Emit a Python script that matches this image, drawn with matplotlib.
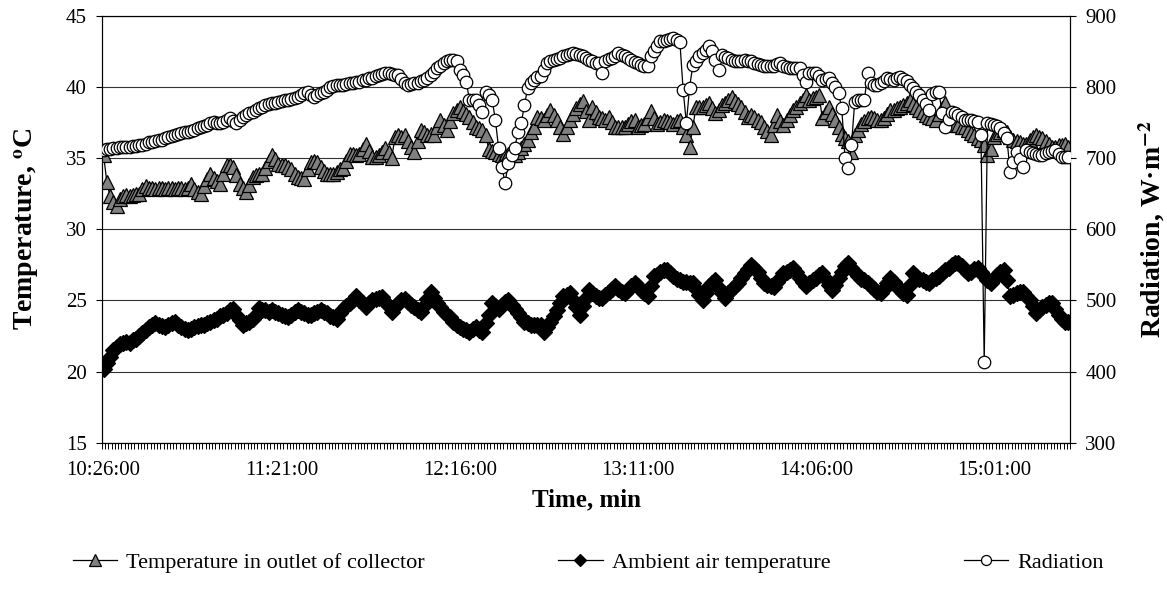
import numpy as np
import matplotlib
matplotlib.use('Agg')
import matplotlib.pyplot as plt

# one reading per minute, 10:26 .. 15:24
t_labels = ['10:26:00', '11:21:00', '12:16:00', '13:11:00', '14:06:00', '15:01:00']
t_label_pos = [0, 55, 110, 165, 220, 275]

t_outlet = [35.2, 33.3, 32.3, 31.9, 31.6, 32.1, 32.3, 32.4, 32.3, 32.4,
            32.5, 32.5, 32.8, 33.0, 32.9, 32.9, 32.8, 32.9, 32.9, 32.8,
            32.9, 32.9, 32.8, 32.9, 32.9, 32.8, 32.9, 33.2, 32.8, 32.6,
            32.5, 33.0, 33.5, 33.9, 33.6, 33.4, 33.2, 33.9, 34.5, 34.5,
            34.4, 33.8, 33.2, 32.9, 32.6, 33.1, 33.7, 33.8, 33.9, 33.9,
            34.3, 34.8, 35.2, 34.9, 34.6, 34.5, 34.5, 34.4, 34.2, 33.9,
            33.7, 33.6, 33.5, 34.2, 34.75, 34.8, 34.75, 34.4, 34.1, 33.9,
            33.9, 33.9, 34.0, 34.2, 34.3, 34.8, 35.3, 35.3, 35.2, 35.3,
            35.6, 36.0, 35.5, 35.1, 35.1, 35.2, 35.4, 35.7, 35.4, 35.0,
            36.5, 36.6, 36.5, 36.6, 36.2, 35.8, 35.45, 36.2, 37.0, 36.8,
            36.6, 36.7, 36.6, 37.2, 37.7, 37.3, 37.0, 37.6, 38.15, 38.4,
            38.6, 38.3, 38.1, 37.9, 37.5, 37.2, 37.1, 37.0, 36.6, 35.6,
            35.5, 35.45, 35.3, 35.2, 35.2, 35.3, 35.2, 35.2, 35.4, 35.7,
            36.0, 36.3, 36.8, 37.2, 37.9, 37.8, 37.7, 38.0, 38.4, 38.0,
            37.7, 37.2, 36.7, 37.2, 37.7, 38.1, 38.5, 38.8, 39.0, 38.3,
            37.7, 38.6, 38.2, 37.9, 37.8, 37.7, 37.9, 37.5, 37.2, 37.2,
            37.2, 37.2, 37.4, 37.6, 37.7, 37.2, 37.3, 37.4, 37.8, 38.3,
            37.8, 37.4, 37.5, 37.7, 37.6, 37.5, 37.4, 37.6, 37.7, 37.2,
            36.6, 35.8, 37.2, 38.6, 38.6, 38.6, 38.7, 38.85, 38.5, 38.15,
            38.4, 38.7, 38.9, 39.1, 39.3, 39.0, 38.8, 38.6, 38.2, 37.9,
            38.0, 37.9, 37.7, 37.5, 37.2, 36.9, 36.6, 37.3, 38.0, 37.6,
            37.3, 37.7, 38.0, 38.4, 38.6, 38.85, 39.1, 39.4, 39.1, 39.2,
            39.3, 39.4, 37.8, 38.2, 38.6, 38.1, 37.7, 37.2, 36.7, 36.4,
            36.2, 35.45, 36.6, 37.0, 37.4, 37.6, 37.8, 37.9, 37.8, 37.7,
            37.7, 37.8, 38.1, 38.4, 38.4, 38.5, 38.6, 38.7, 38.9, 39.1,
            38.8, 38.6, 38.4, 38.2, 38.0, 37.9, 37.8, 37.7, 38.1, 38.5,
            38.9, 38.0, 37.4, 37.3, 37.3, 37.2, 37.2, 37.0, 36.75, 36.6,
            36.4, 36.3, 35.9, 35.2, 35.6, 36.5, 36.7, 36.8, 37.0, 36.8,
            36.5, 36.3, 36.2, 36.1, 36.0, 36.0, 36.3, 36.5, 36.6, 36.5,
            36.4, 36.2, 36.0, 35.8, 35.8, 35.9, 35.9, 36.0, 35.8]

t_ambient = [20.2, 20.6, 21.0, 21.5, 21.7, 21.9, 22.0, 22.1, 22.0, 22.2,
             22.3, 22.5, 22.7, 22.9, 23.1, 23.3, 23.4, 23.3, 23.2, 23.15,
             23.3, 23.4, 23.5, 23.3, 23.1, 23.0, 22.9, 23.0, 23.1, 23.2,
             23.27, 23.3, 23.4, 23.5, 23.6, 23.7, 23.9, 24.0, 24.1, 24.3,
             24.4, 24.0, 23.6, 23.3, 23.4, 23.5, 23.7, 24.0, 24.45, 24.3,
             24.3, 24.2, 24.3, 24.2, 24.1, 24.0, 23.9, 23.85, 24.0, 24.2,
             24.3, 24.2, 24.1, 24.0, 24.0, 24.1, 24.2, 24.3, 24.2, 24.1,
             23.9, 23.8, 23.7, 24.1, 24.4, 24.6, 24.8, 25.0, 25.3, 25.0,
             24.8, 24.55, 24.8, 25.0, 25.1, 25.2, 25.26, 24.9, 24.6, 24.2,
             24.5, 24.8, 25.0, 25.1, 24.9, 24.7, 24.5, 24.3, 24.2, 24.6,
             25.1, 25.6, 25.2, 24.8, 24.5, 24.2, 24.0, 23.8, 23.5, 23.3,
             23.1, 23.0, 22.9, 22.8, 23.0, 23.1, 22.9, 22.8, 23.4, 24.0,
             24.8, 24.6, 24.4, 24.7, 24.9, 25.0, 24.7, 24.4, 24.1, 23.8,
             23.5, 23.4, 23.3, 23.3, 23.3, 23.3, 22.8, 23.1, 23.5, 23.9,
             24.3, 24.8, 25.3, 25.4, 25.5, 25.0, 24.5, 24.0, 24.6, 25.2,
             25.7, 25.5, 25.3, 25.2, 25.15, 25.4, 25.6, 25.8, 26.0, 25.8,
             25.6, 25.5, 25.7, 26.0, 26.2, 26.0, 25.7, 25.5, 25.3, 26.0,
             26.7, 26.8, 27.0, 27.1, 27.1, 26.9, 26.7, 26.5, 26.4, 26.3,
             26.3, 26.2, 26.2, 25.8, 25.4, 25.0, 25.5, 26.0, 26.2, 26.4,
             25.9, 25.5, 25.15, 25.5, 25.8, 26.0, 26.2, 26.6, 26.9, 27.2,
             27.5, 27.3, 27.0, 26.6, 26.2, 26.1, 26.0, 25.97, 26.3, 26.6,
             26.9, 27.0, 27.1, 27.3, 27.0, 26.6, 26.3, 26.0, 26.2, 26.4,
             26.6, 26.8, 26.9, 26.5, 26.1, 25.7, 26.1, 26.6, 27.0, 27.4,
             27.6, 27.3, 27.0, 26.7, 26.5, 26.4, 26.2, 26.0, 25.8, 25.6,
             25.5, 25.8, 26.2, 26.6, 26.3, 26.0, 25.7, 25.5, 25.4, 26.1,
             26.9, 26.7, 26.5, 26.4, 26.3, 26.2, 26.4, 26.6, 26.7, 26.9,
             27.1, 27.3, 27.5, 27.6, 27.6, 27.4, 27.1, 26.9, 27.0, 27.2,
             27.3, 27.0, 26.7, 26.4, 26.2, 26.5, 26.8, 27.0, 27.1, 26.4,
             25.3, 25.4, 25.5, 25.6, 25.6, 25.3, 25.0, 24.6, 24.1, 24.3,
             24.5, 24.7, 24.8, 24.8, 24.4, 24.0, 23.7, 23.5, 23.5]

radiation = [711, 712, 713, 714, 714, 715, 715, 716, 716, 717,
             717, 718, 719, 720, 722, 723, 724, 725, 726, 728,
             730, 731, 732, 734, 735, 736, 737, 738, 740, 742,
             744, 745, 747, 749, 750, 749, 749, 751, 753, 756,
             752, 749, 753, 757, 760, 763, 765, 768, 770, 772,
             775, 776, 777, 778, 779, 780, 781, 782, 783, 785,
             786, 788, 791, 793, 789, 786, 789, 791, 793, 796,
             800, 801, 802, 803, 803, 804, 805, 806, 807, 807.5,
             809, 810, 812, 813, 815, 817, 818, 819, 819, 818,
             817, 817, 811, 805, 803, 804, 805, 806, 808, 810,
             813, 817, 821, 826, 830, 833, 836, 838, 838, 836,
             824, 816, 807, 782, 781, 782, 774, 765, 793, 788,
             782, 754, 714, 688, 665, 693, 704, 714, 737, 749,
             775, 798, 805, 810, 814, 815, 824, 833, 836, 838,
             839, 840, 843, 845, 846, 847, 846, 845, 843, 840,
             838, 836, 834, 833, 819, 836, 839, 841, 843, 847,
             845, 843, 840, 838, 835, 833, 831, 830, 829, 843,
             850, 857, 864, 865, 866, 867, 868, 866, 863, 796,
             749, 799, 831, 837, 843, 847, 852, 857, 850, 838,
             824, 845, 842, 840, 838, 836, 836, 837, 838, 837,
             836, 834, 832, 831, 830, 829, 829, 830, 832, 833,
             830, 828, 826, 826, 826, 826, 816, 807, 819, 819,
             819, 815, 810, 811, 812, 806, 800, 791, 770, 700,
             686, 718, 779, 782, 782, 782, 819, 805, 803, 803,
             805, 808, 812, 811, 810, 812, 814, 811, 808, 803,
             798, 793, 789, 782, 776, 768, 790, 793, 793, 763,
             744, 755, 765, 763, 761, 758, 754, 754, 754, 752,
             751, 732, 413, 749, 748, 747, 745, 742, 735, 728,
             681, 695, 709, 698, 688, 711, 709, 707, 706, 704,
             704, 707, 709, 710, 711, 706, 702, 702, 702]

n = len(t_outlet)
x = np.arange(n)

plt.rcParams['font.family'] = 'Liberation Serif'
plt.rcParams['mathtext.fontset'] = 'stix'

fig = plt.figure(figsize=(11.67, 5.99), dpi=100)
ax = fig.add_axes([102 / 1167, 1 - 442.7 / 599, 968 / 1167, 427 / 599])
ax2 = ax.twinx()

ax.plot(x, t_outlet, color='black', lw=0.9, marker='^', ms=10,
        mfc='#808080', mec='black', mew=0.9, label='Temperature in outlet of collector', zorder=3)
ax.plot(x, t_ambient, color='black', lw=0.9, marker='D', ms=8,
        mfc='black', mec='black', mew=0.9, label='Ambient air temperature', zorder=3)
ax2.plot(x, radiation, color='black', lw=0.9, marker='o', ms=9,
         mfc='white', mec='black', mew=0.9, label='Radiation', zorder=3)

ax.set_xlim(-0.5, n - 0.5)
ax.set_ylim(15, 45)
ax.set_yticks(range(15, 46, 5))
ax2.set_ylim(300, 900)
ax2.set_yticks(range(300, 901, 100))

ax.yaxis.grid(True, color='#333333', lw=0.8)
ax.set_axisbelow(True)

ax.set_xticks(t_label_pos)
ax.set_xticklabels(t_labels)
ax.set_xticks(np.arange(-0.5, n, 1), minor=True)
ax.tick_params(axis='x', which='major', length=0, pad=13, labelsize=15)
ax.tick_params(axis='x', which='minor', length=4.5, width=0.7, direction='out')
ax.tick_params(axis='y', length=4, width=0.8, direction='out', labelsize=15, pad=7)
ax2.tick_params(axis='y', length=4, width=0.8, direction='out', labelsize=15, pad=7)

for a in (ax, ax2):
    for s in a.spines.values():
        s.set_linewidth(0.8)

ax.set_xlabel('Time, min', fontsize=18, fontweight='bold', labelpad=6)
ax.set_ylabel(r'Temperature, $^{\mathbf{o}}$C', fontsize=20, fontweight='bold', labelpad=18)
ax2.set_ylabel(r'Radiation, W·m$^{\mathbf{-2}}$', fontsize=20,
               fontweight='bold', labelpad=14)

h1, l1 = ax.get_legend_handles_labels()
h2, l2 = ax2.get_legend_handles_labels()
fig.legend(h1 + h2, l1 + l2, loc='lower center', ncol=3, frameon=False,
           fontsize=16, columnspacing=6, handlelength=2.0, handletextpad=0.4,
           bbox_to_anchor=(0.504, 0.01), markerscale=0.8)

fig.savefig('out.png', dpi=100)
